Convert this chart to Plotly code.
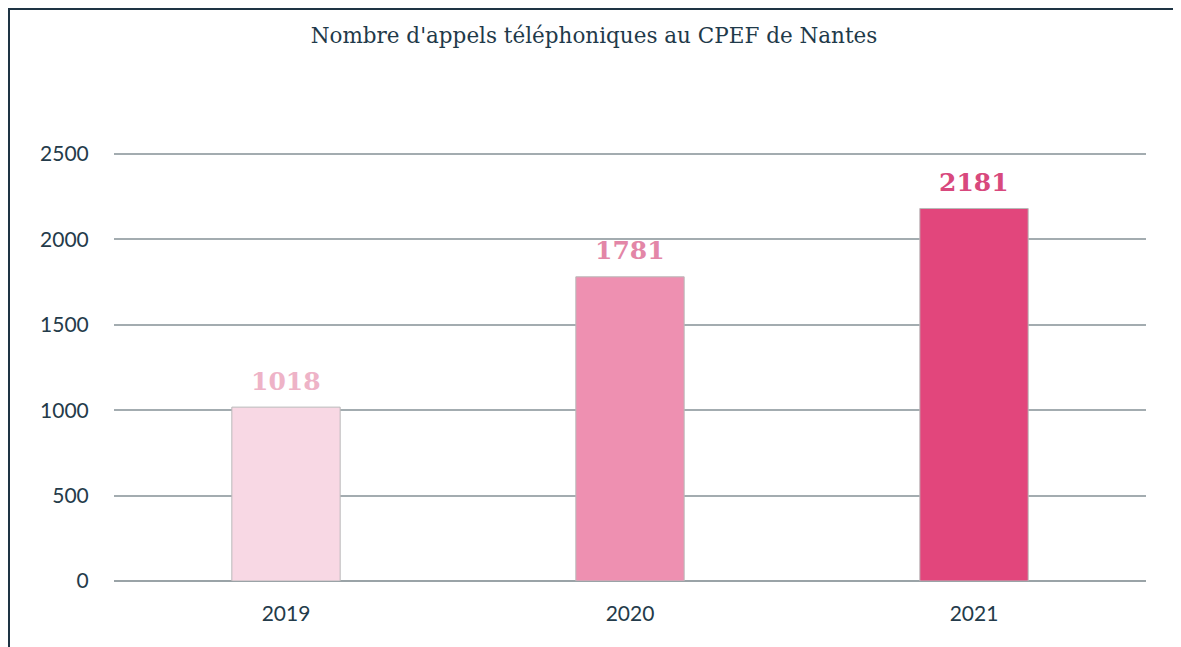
import plotly.graph_objects as go

years = ["2019", "2020", "2021"]
calls = [1018, 1781, 2181]
bar_colors = ["#f8d8e4", "#ee90b1", "#e2467c"]
label_colors = ["#eeb3c7", "#e386a7", "#d8497d"]
y_ticks = [0, 500, 1000, 1500, 2000, 2500]

W, H = 1173, 639
L, R, T, B = 106, 35, 141, 66
pw, ph = W - L - R, H - T - B
ytop = 2500 + 5 * 2500 / 427

fig = go.Figure()
fig.add_trace(go.Bar(
    x=years, y=calls,
    width=0.315,
    marker=dict(color=bar_colors, line=dict(color="#b9b9b9", width=1)),
    hoverinfo="x+y",
))

# category index positions for the value labels
for i, (v, c) in enumerate(zip(calls, label_colors)):
    fig.add_annotation(x=i, y=v, xref="x", yref="y", text=str(v), showarrow=False,
                       yanchor="middle", yshift=26,
                       font=dict(family="DejaVu Serif", size=25, color=c, weight=600))

fig.update_layout(
    width=W, height=H,
    paper_bgcolor="white", plot_bgcolor="white",
    margin=dict(l=L, r=R, t=T, b=B),
    title=dict(text="Nombre d'appels téléphoniques au CPEF de Nantes",
               x=(594 - 8 - L) / pw, xref="paper", xanchor="center",
               y=1 - 27 / H, yanchor="middle",
               font=dict(family="DejaVu Serif", size=21.5, color="#1f3a4a")),
    showlegend=False,
    xaxis=dict(type="category", categoryarray=years, range=[-0.5, 2.5],
               showgrid=False, showline=False, ticks="outside", ticklen=14,
               tickcolor="rgba(0,0,0,0)",
               tickfont=dict(family="Lato", size=21, color="#243b4a")),
    yaxis=dict(range=[0, ytop], tickvals=y_ticks, showgrid=True,
               gridcolor="#a3acb0", gridwidth=1.5,
               zeroline=True, zerolinecolor="#9aa3a7", zerolinewidth=2,
               ticks="outside", ticklen=20, tickcolor="rgba(0,0,0,0)",
               tickfont=dict(family="Lato", size=21, color="#243b4a")),
    shapes=[dict(type="rect", xref="paper", yref="paper",
                 x0=-(L - 1) / pw, x1=1 + (R - 1) / pw,
                 y0=-(B + 5) / ph, y1=1 + (T - 1) / ph,
                 line=dict(color="#1e3444", width=2), fillcolor="rgba(0,0,0,0)",
                 layer="below")],
)

fig.write_html("out.html")
